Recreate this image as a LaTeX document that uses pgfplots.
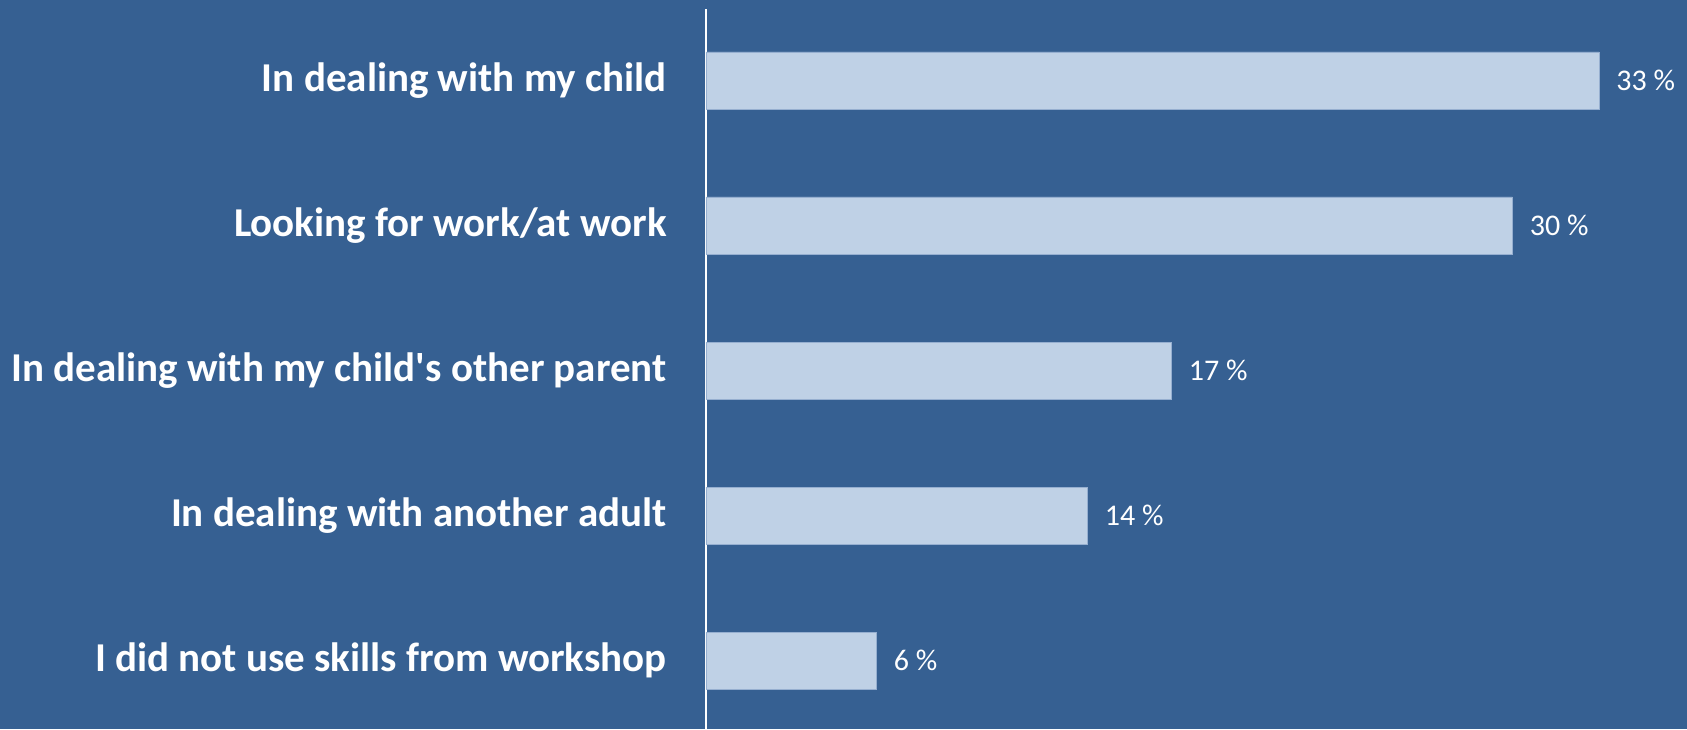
\documentclass[border=0pt]{standalone}
\usepackage{pgfplots}
\pgfplotsset{compat=1.18}
\usepackage{fontspec}
\setmainfont{Carlito}
\definecolor{bg}{RGB}{54,96,146}
\definecolor{barfill}{RGB}{191,209,230}
\definecolor{baredge}{RGB}{150,175,208}

\begin{document}
\begin{tikzpicture}
% background, 1687 x 729 px at 0.5pt per px; axis starts at px 706
\fill[bg, use as bounding box] (-353pt,0pt) rectangle (490.5pt,364.5pt);
\begin{axis}[
    at={(0pt,0pt)}, anchor=south west,
    scale only axis,
    width=490.5pt, height=360pt,
    xbar, bar width=28.5pt,
    xmin=0, xmax=36.25,
    ymin=-0.472, ymax=4.493,
    axis x line=none,
    axis y line*=left,
    axis line style={white, line width=1pt},
    ytick={0,1,2,3,4},
    yticklabels={I did not use skills from workshop,
                 In dealing with another adult,
                 In dealing with my child\textquotesingle s other parent,
                 Looking for work/at work,
                 In dealing with my child},
    major tick length=0pt,
    yticklabel style={font=\fontsize{20.5}{24}\selectfont\bfseries, text=white,
                      anchor=east, inner sep=0pt, xshift=-19.5pt},
    point meta=explicit,
    /pgf/number format/assume math mode=true,
    nodes near coords={\pgfmathprintnumber{\pgfplotspointmeta}~\%},
    nodes near coords style={font=\fontsize{15}{18}\selectfont, text=white,
                             anchor=west, inner sep=0pt, xshift=8.5pt},
]
\addplot[fill=barfill, draw=baredge, line width=0.4pt]
    coordinates {(6.3,0) [6] (14.1,1) [14] (17.2,2) [17] (29.8,3) [30] (33,4) [33]};
\end{axis}
\end{tikzpicture}
\end{document}
